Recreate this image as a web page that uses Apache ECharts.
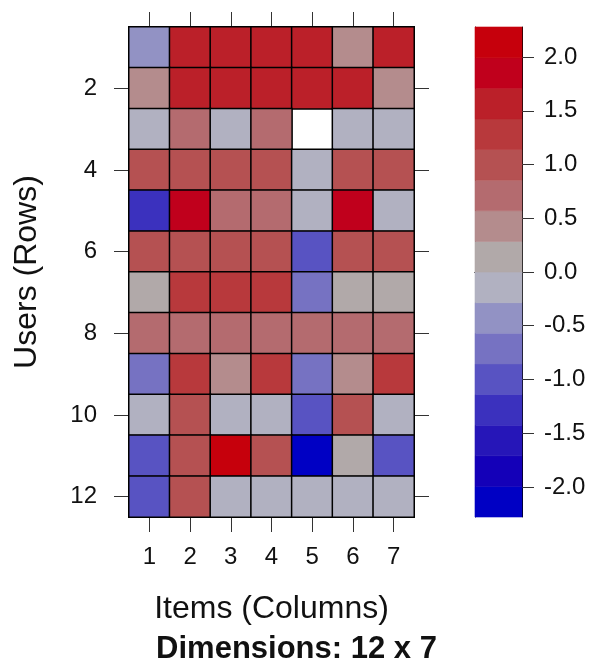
<!DOCTYPE html>
<html>
<head>
<meta charset="utf-8">
<script src="https://cdn.jsdelivr.net/npm/echarts@6/dist/echarts.min.js"></script>
<style>
  html, body { margin: 0; padding: 0; background: #fff; }
  #chart { width: 593px; height: 669px; }
</style>
</head>
<body>
<div id="chart"></div>
<script>
// Items on the x axis, users on the y axis (row 1 at the top)
const itemLabels = ['1', '2', '3', '4', '5', '6', '7'];
const userLabels = ['1', '2', '3', '4', '5', '6', '7', '8', '9', '10', '11', '12'];

// Scores, one row per user (null = missing)
const row1  = [-0.42, 1.55, 1.58, 1.52, 1.60, 0.45, 1.55];
const row2  = [ 0.42, 1.60, 1.55, 1.57, 1.60, 1.52, 0.42];
const row3  = [-0.10, 0.70, -0.12, 0.70, null, -0.10, -0.10];
const row4  = [ 1.00, 1.00, 1.00, 1.00, -0.10, 1.00, 1.00];
const row5  = [-1.30, 1.85, 0.70, 0.70, -0.10, 1.85, -0.10];
const row6  = [ 1.00, 1.00, 1.00, 1.00, -1.00, 1.00, 1.00];
const row7  = [ 0.15, 1.28, 1.28, 1.28, -0.70, 0.15, 0.15];
const row8  = [ 0.70, 0.70, 0.70, 0.70, 0.70, 0.70, 0.70];
const row9  = [-0.70, 1.28, 0.42, 1.28, -0.70, 0.42, 1.28];
const row10 = [-0.10, 1.00, -0.10, -0.10, -1.00, 1.00, -0.10];
const row11 = [-1.00, 1.00, 2.13, 1.00, -2.13, 0.15, -1.00];
const row12 = [-1.00, 1.00, -0.10, -0.10, -0.10, -0.10, -0.10];
const scoreRows = [row1, row2, row3, row4, row5, row6, row7, row8, row9, row10, row11, row12];

// Colour key: 16 equal-width intervals, low to high
const colorBreaks = [-2.28, -1.995, -1.71, -1.425, -1.14, -0.855, -0.57, -0.285, 0,
                     0.285, 0.57, 0.855, 1.14, 1.425, 1.71, 1.995, 2.28];
const colorSteps = ['#0000C4', '#1400B8', '#2616B8', '#3B31BE', '#5853C2', '#7672C2', '#9292C4', '#B1B1C1',
                    '#B1A9A9', '#B48C8D', '#B46B6F', '#B55152', '#B8393C', '#BB2029', '#C0001C', '#C6000C'];
const keyTicks = [-2.0, -1.5, -1.0, -0.5, 0.0, 0.5, 1.0, 1.5, 2.0];

const FONT = '"Liberation Sans", Arial, Helvetica, sans-serif';
const INK = '#111';

const cells = [];
scoreRows.forEach((row, r) => {
  row.forEach((v, c) => {
    cells.push([c, r, v === null ? '-' : v]);
  });
});

const pieces = colorSteps.map((col, i) => ({
  gte: colorBreaks[i],
  lt: colorBreaks[i + 1] + (i === colorSteps.length - 1 ? 1e-9 : 0),
  color: col
}));

const keyData = colorSteps.map((col, i) => [0, colorBreaks[i], colorBreaks[i + 1], i]);

const evenRow = (idx) => idx % 2 === 1;
const tickStyle = { color: '#333', width: 1 };
const lineStyle = { color: '#000', width: 1 };

const chart = echarts.init(document.getElementById('chart'), null, { renderer: 'canvas' });

chart.setOption({
  animation: false,
  backgroundColor: '#fff',
  textStyle: { fontFamily: FONT },
  title: {
    text: 'Dimensions: 12 x 7',
    left: 'center',
    top: 629,
    textStyle: { fontFamily: FONT, fontSize: 31, fontWeight: 'bold', color: INK }
  },
  grid: [
    { left: 129, top: 27, width: 285, height: 490 },
    { left: 475, top: 27, width: 47, height: 490 }
  ],
  xAxis: [
    {
      gridIndex: 0, type: 'category', data: itemLabels, position: 'bottom',
      axisLine: { show: true, lineStyle },
      axisTick: { show: true, alignWithLabel: true, length: 15, lineStyle: tickStyle },
      axisLabel: { fontSize: 24, margin: 28, color: INK, fontFamily: FONT },
      splitLine: { show: false },
      name: 'Items (Columns)', nameLocation: 'middle', nameGap: 76,
      nameTextStyle: { fontSize: 32, color: INK, fontFamily: FONT }
    },
    {
      gridIndex: 0, type: 'category', data: itemLabels, position: 'top',
      axisLine: { show: true, lineStyle },
      axisTick: { show: true, alignWithLabel: true, length: 15, lineStyle: tickStyle },
      axisLabel: { show: false }, splitLine: { show: false }
    },
    {
      gridIndex: 1, type: 'category', data: [''], position: 'bottom',
      axisLine: { show: true, lineStyle }, axisTick: { show: false }, axisLabel: { show: false }
    },
    {
      gridIndex: 1, type: 'category', data: [''], position: 'top',
      axisLine: { show: true, lineStyle }, axisTick: { show: false }, axisLabel: { show: false }
    }
  ],
  yAxis: [
    {
      gridIndex: 0, type: 'category', data: userLabels, inverse: true, position: 'left',
      axisLine: { show: true, lineStyle },
      axisTick: { show: true, alignWithLabel: true, length: 15, interval: evenRow, lineStyle: tickStyle },
      axisLabel: { fontSize: 24, margin: 32, color: INK, interval: evenRow, fontFamily: FONT },
      splitLine: { show: false },
      name: 'Users (Rows)', nameLocation: 'middle', nameGap: 86, nameRotate: 90,
      nameTextStyle: { fontSize: 32, color: INK, fontFamily: FONT }
    },
    {
      gridIndex: 0, type: 'category', data: userLabels, inverse: true, position: 'right',
      axisLine: { show: true, lineStyle },
      axisTick: { show: true, alignWithLabel: true, length: 15, interval: evenRow, lineStyle: tickStyle },
      axisLabel: { show: false }, splitLine: { show: false }
    },
    {
      gridIndex: 1, type: 'value', min: colorBreaks[0], max: colorBreaks[colorBreaks.length - 1],
      position: 'right',
      axisLine: { show: true, lineStyle },
      axisTick: { show: true, length: 12, customValues: keyTicks, lineStyle: tickStyle },
      axisLabel: {
        show: true, fontSize: 24, margin: 22, color: INK, fontFamily: FONT,
        customValues: keyTicks, formatter: (v) => Number(v).toFixed(1)
      },
      splitLine: { show: false }
    },
    {
      gridIndex: 1, type: 'value', min: colorBreaks[0], max: colorBreaks[colorBreaks.length - 1],
      position: 'left',
      axisLine: { show: true, lineStyle }, axisTick: { show: false }, axisLabel: { show: false },
      splitLine: { show: false }
    }
  ],
  visualMap: {
    type: 'piecewise', show: false, seriesIndex: 0, dimension: 2, pieces: pieces
  },
  series: [
    {
      type: 'heatmap', xAxisIndex: 0, yAxisIndex: 0, data: cells,
      itemStyle: { borderColor: '#000', borderWidth: 1.5 },
      emphasis: { disabled: true }, silent: true, z: 1
    },
    {
      type: 'custom', xAxisIndex: 2, yAxisIndex: 2, data: keyData,
      encode: { x: 0, y: [1, 2] }, silent: true, z: 1,
      renderItem: (params, api) => {
        const lo = api.coord([0, api.value(1)]);
        const hi = api.coord([0, api.value(2)]);
        const w = api.size([1, 0])[0];
        const col = colorSteps[api.value(3)];
        return {
          type: 'rect',
          shape: { x: lo[0] - w / 2, y: hi[1], width: w, height: lo[1] - hi[1] },
          style: { fill: col, stroke: col, lineWidth: 0.6 }
        };
      }
    }
  ]
});
</script>
</body>
</html>
